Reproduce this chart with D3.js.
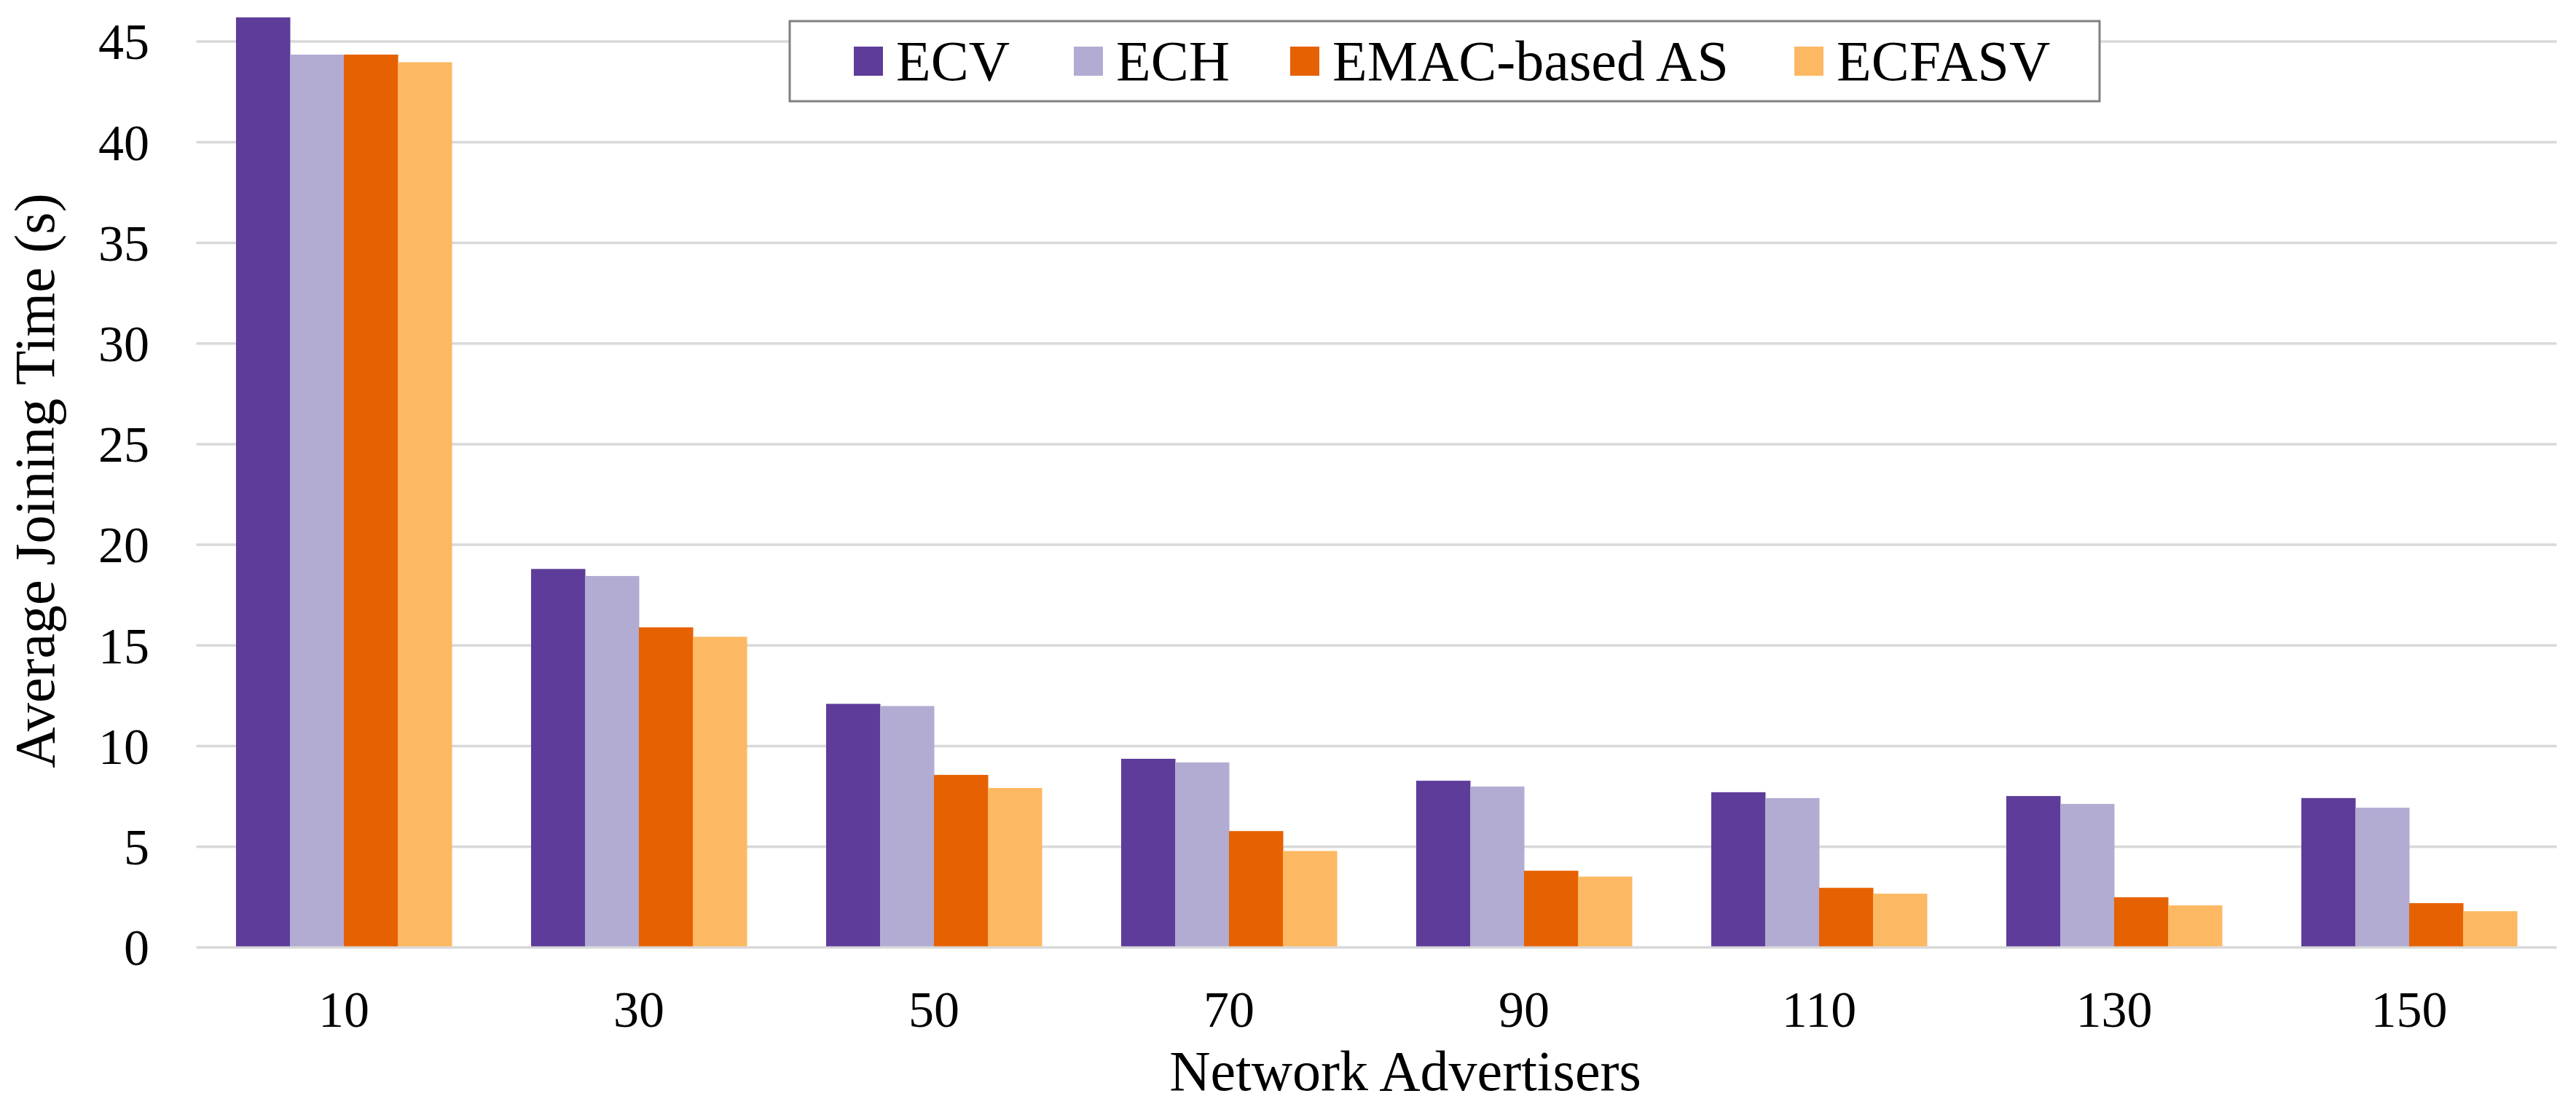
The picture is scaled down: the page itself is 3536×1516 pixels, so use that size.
<!DOCTYPE html>
<html>
<head>
<meta charset="utf-8">
<script src="https://cdn.jsdelivr.net/npm/d3@7"></script>
<style>
  html, body { margin: 0; padding: 0; background: #fff; }
  svg { display: block; font-family: "Liberation Serif", "Times New Roman", serif; }
</style>
</head>
<body>
<svg id="chart" width="3536" height="1516"></svg>
<script>
const categories = ["10", "30", "50", "70", "90", "110", "130", "150"];
const seriesNames = ["ECV", "ECH", "EMAC-based AS", "ECFASV"];
const ecv    = [46.2, 18.8, 12.1, 9.37, 8.28, 7.71, 7.52, 7.42];
const ech    = [44.35, 18.45, 11.99, 9.19, 7.99, 7.42, 7.13, 6.94];
const emac   = [44.35, 15.9, 8.57, 5.78, 3.81, 2.96, 2.49, 2.2];
const ecfasv = [43.97, 15.43, 7.92, 4.79, 3.52, 2.67, 2.09, 1.8];
const yTicks = [0, 5, 10, 15, 20, 25, 30, 35, 40, 45];
const colors = ["#5E3C99", "#B2ABD2", "#E66101", "#FDB863"];
const xTitle = "Network Advertisers";
const yTitle = "Average Joining Time (s)";

const seriesValues = [ecv, ech, emac, ecfasv];
const svg = d3.select("#chart");

const L = 269.5, R = 3509.5, T = 57, B = 1301;

const x0 = d3.scaleBand().domain(categories).range([L, R]).paddingInner(0.269).paddingOuter(0.1345);
const x1 = d3.scaleBand().domain(seriesNames).range([0, x0.bandwidth()]).padding(0);
const y = d3.scaleLinear().domain([0, 45]).range([B, T]);

// gridlines
svg.append("g").selectAll("line").data(yTicks).join("line")
  .attr("x1", L).attr("x2", R)
  .attr("y1", d => y(d)).attr("y2", d => y(d))
  .attr("stroke", "#D9D9D9").attr("stroke-width", 3.5);

// bars
const groups = svg.append("g").selectAll("g").data(categories).join("g")
  .attr("transform", d => `translate(${x0(d)},0)`);
groups.selectAll("rect")
  .data((c, i) => seriesNames.map((s, k) => ({ s, k, v: seriesValues[k][i] })))
  .join("rect")
  .attr("x", d => x1(d.s))
  .attr("width", x1.bandwidth() + 0.5)
  .attr("y", d => y(d.v))
  .attr("height", d => y(0) - y(d.v) - 1.5)
  .attr("fill", d => colors[d.k]);

// y axis
const yAxis = d3.axisLeft(y).tickValues(yTicks).tickSize(0).tickPadding(0);
const gy = svg.append("g").attr("transform", `translate(205,0)`).call(yAxis);
gy.select(".domain").remove();
gy.selectAll("text").attr("font-size", 70).attr("fill", "#000")
  .attr("font-family", "Liberation Serif, Times New Roman, serif").attr("dy", "0.34em");

// x axis
const xAxis = d3.axisBottom(x0).tickSize(0).tickPadding(0);
const gx = svg.append("g").attr("transform", `translate(0,0)`).call(xAxis);
gx.select(".domain").remove();
gx.selectAll("text").attr("font-size", 70).attr("fill", "#000")
  .attr("font-family", "Liberation Serif, Times New Roman, serif")
  .attr("y", 1410).attr("dy", 0);

// axis titles
svg.append("text").attr("x", 1929).attr("y", 1497).attr("text-anchor", "middle")
  .attr("font-size", 78).attr("fill", "#000").text(xTitle);
svg.append("text").attr("transform", "translate(74,660) rotate(-90)").attr("text-anchor", "middle")
  .attr("font-size", 78).attr("fill", "#000").text(yTitle);

// legend
const legend = svg.append("g");
legend.append("rect").attr("x", 1084).attr("y", 29).attr("width", 1798).attr("height", 110)
  .attr("fill", "#fff").attr("stroke", "#808080").attr("stroke-width", 3);
const legendX = [1172, 1474, 1771, 2463];
const items = legend.selectAll("g.item").data(seriesNames).join("g").attr("class", "item")
  .attr("transform", (d, i) => `translate(${legendX[i]},0)`);
items.append("rect").attr("x", 0).attr("y", 64).attr("width", 40).attr("height", 40)
  .attr("fill", (d, i) => colors[i]);
items.append("text").attr("x", 58).attr("y", 110).attr("font-size", 78).attr("fill", "#000").text(d => d);
</script>
</body>
</html>
